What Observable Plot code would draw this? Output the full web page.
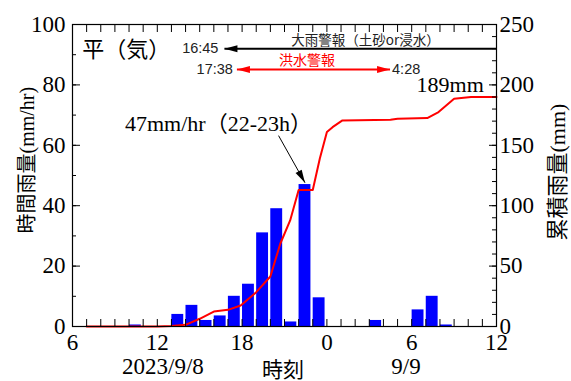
<!DOCTYPE html>
<html><head><meta charset="utf-8">
<script src="https://cdn.jsdelivr.net/npm/d3@7"></script>
<script src="https://cdn.jsdelivr.net/npm/@observablehq/plot@0.6"></script>
<style>body{margin:0;background:#fff}</style>
</head><body><div id="chart"></div>
<script>
// hourly rainfall (mm/hr), bar starts at the given hour (hours since 0:00 on 9/8)
const barHours = [10, 13, 14, 15, 16, 17, 18, 19, 20, 21, 22, 23, 27, 30, 31, 32];
const barRain  = [0.5, 4, 7, 2, 3.5, 10, 14, 31, 39, 1.5, 47, 9.5, 2, 5.5, 10, 0.5];
// cumulative rainfall (mm)
const cumHours = [7, 12, 13, 14, 15, 16, 17, 17.9, 19, 20, 20.7, 21.4, 22, 23, 23.5, 24, 24.4, 25.1, 28.5, 29, 31.1, 31.9, 33, 34.2, 36];
const cumRain  = [0, 0, 0.5, 1.4, 6.4, 12.4, 13.8, 17.4, 28.4, 41.4, 68.5, 87.8, 113, 113, 139, 161, 165, 170.6, 171.1, 172, 172.5, 177.5, 188.5, 190, 190];
// axes
const xDomain = [6, 36];
const xMajorTicks = [6, 12, 18, 24, 30, 36];
const xMajorLabels = ["6", "12", "18", "0", "6", "12"];
const leftDomain = [0, 100];
const leftMajor = [0, 20, 40, 60, 80, 100];
const rightMax = 250;
const rightMajor = [0, 50, 100, 150, 200, 250];
const dateLabels = ["2023/9/8", "9/9"];
const dateHours = [12.4, 29.6];
const xTitle = "時刻";
const leftTitleJ = "時間雨量", leftTitleUnit = "(mm/hr)";
const rightTitleJ = "累積雨量", rightTitleUnit = "(mm)";
// annotations
const stationLabel = "平（気）";
const heavyLabel = "大雨警報（土砂or浸水）";
const heavyStart = 16.75, heavyStartLabel = "16:45";
const floodLabel = "洪水警報";
const floodStart = 17.633, floodEnd = 28.467, floodStartLabel = "17:38", floodEndLabel = "4:28";
const peakLabel = "47mm/hr（22-23h）";
const totalLabel = "189mm";

const k = leftDomain[1] / rightMax;
const bars = barHours.map((h, i) => ({h, v: barRain[i]}));
const cum = cumHours.map((h, i) => ({h, v: cumRain[i] * k}));

const serif = "'Liberation Serif','Noto Sans CJK JP',serif";
const sansJ = "'Noto Sans CJK JP','Noto Sans',sans-serif";
const sans = "'Liberation Sans','Noto Sans',sans-serif";
const blank = () => "";

const chart = Plot.plot({
  width: 571, height: 381,
  marginLeft: 72, marginRight: 75, marginTop: 24, marginBottom: 55,
  x: {domain: xDomain, label: null},
  y: {domain: leftDomain, label: null},
  style: {background: "white", color: "black"},
  marks: [
    Plot.rectY(bars, {x1: d => d.h + 0.03, x2: d => d.h + 0.87, y: "v", fill: "#0000ff"}),
    Plot.line(cum, {x: "h", y: "v", stroke: "#ff0000", strokeWidth: 2}),
    // ticks (inward)
    Plot.axisX(d3.range(6, 37, 1), {anchor: "bottom", tickSize: -7, tickFormat: blank, label: null}),
    Plot.axisX(d3.range(6, 37, 1), {anchor: "top", tickSize: -7, tickFormat: blank, label: null}),
    Plot.axisY(d3.range(0, 101, 10), {anchor: "left", tickSize: -4, tickFormat: blank, label: null}),
    Plot.axisY(leftMajor, {anchor: "left", tickSize: -8, tickFormat: blank, label: null}),
    Plot.axisY(d3.range(0, rightMax + 1, 10).map(v => v * k), {anchor: "right", tickSize: -5, tickFormat: blank, label: null}),
    Plot.axisY(rightMajor.map(v => v * k), {anchor: "right", tickSize: -8, tickFormat: blank, label: null}),
    // tick labels
    Plot.axisX(xMajorTicks, {anchor: "bottom", tickSize: 0, tickPadding: 7, fontSize: 23, fontFamily: serif, label: null,
      tickFormat: d => xMajorLabels[xMajorTicks.indexOf(d)]}),
    Plot.axisY(leftMajor, {anchor: "left", tickSize: 0, tickPadding: 7, fontSize: 23, fontFamily: serif, label: null}),
    Plot.axisY(rightMajor.map(v => v * k), {anchor: "right", tickSize: 0, tickPadding: 3, fontSize: 23, fontFamily: serif, label: null,
      tickFormat: d => Math.round(d / k)}),
    Plot.frame({stroke: "black", strokeWidth: 1.2}),
    // axis titles
    Plot.text(dateLabels, {x: (d, i) => dateHours[i], frameAnchor: "bottom", dy: 47, fontSize: 23, fontFamily: serif, text: d => d}),
    Plot.text([xTitle], {x: [20.9], frameAnchor: "bottom", dy: 50, fontSize: 21, fontFamily: sansJ}),
    Plot.text([leftTitleJ], {frameAnchor: "left", textAnchor: "start", dx: -45, dy: 58, rotate: -90, fontSize: 20, fontFamily: sansJ}),
    Plot.text([leftTitleUnit], {frameAnchor: "left", textAnchor: "start", dx: -45, dy: -22, rotate: -90, fontSize: 20, fontFamily: serif}),
    Plot.text([rightTitleJ], {frameAnchor: "right", textAnchor: "start", dx: 61, dy: 65, rotate: -90, fontSize: 22, fontFamily: sansJ}),
    Plot.text([rightTitleUnit], {frameAnchor: "right", textAnchor: "start", dx: 61, dy: -23, rotate: -90, fontSize: 22, fontFamily: serif}),
    // annotations
    Plot.text([stationLabel], {x: [9.8], y: [91.7], fontSize: 22, fontFamily: sansJ}),
    Plot.link([0], {x1: xDomain[1], x2: heavyStart, y1: 92, y2: 92, stroke: "black", strokeWidth: 2, markerEnd: "arrow"}),
    Plot.text([heavyStartLabel], {x: [heavyStart], y: [92], dx: -6, textAnchor: "end", fontSize: 14.5, fontFamily: sans, fill: "#222"}),
    Plot.text([heavyLabel], {x: [26.73], y: [94.7], fontSize: 13.5, fontFamily: sansJ, fill: "#222"}),
    Plot.link([0], {x1: floodStart, x2: floodEnd, y1: 85.1, y2: 85.1, stroke: "#ff0000", strokeWidth: 2, markerStart: "arrow-reverse", markerEnd: "arrow"}),
    Plot.text([floodStartLabel], {x: [floodStart], y: [85.1], dx: -4, textAnchor: "end", fontSize: 14.5, fontFamily: sans, fill: "#222"}),
    Plot.text([floodEndLabel], {x: [floodEnd], y: [85.1], dx: 2, textAnchor: "start", fontSize: 14.5, fontFamily: sans, fill: "#222"}),
    Plot.text([floodLabel], {x: [22.6], y: [88.1], fontSize: 14, fontFamily: sansJ, fill: "#ff0000"}),
    Plot.text([peakLabel], {x: [16.33], y: [67.2], fontSize: 22, fontFamily: serif}),
    Plot.link([0], {x1: 20.58, y1: 63.2, x2: 22.45, y2: 47.6, stroke: "black", strokeWidth: 1, markerEnd: "arrow"}),
    Plot.text([totalLabel], {x: [35.1], y: [80.1], textAnchor: "end", fontSize: 22, fontFamily: serif})
  ]
});

// filled arrowheads
d3.select(chart).selectAll("marker").each(function() {
  const m = d3.select(this);
  const c = m.attr("stroke") || "black";
  m.attr("markerUnits", "userSpaceOnUse").attr("viewBox", "-14 -5 15 10")
   .attr("markerWidth", 15).attr("markerHeight", 10)
   .attr("fill", c).attr("stroke", "none");
  m.selectAll("*").remove();
  m.append("path").attr("d", "M-13,-3.5L0,0L-13,3.5Z");
});
document.getElementById("chart").appendChild(chart);
</script>
</body></html>
